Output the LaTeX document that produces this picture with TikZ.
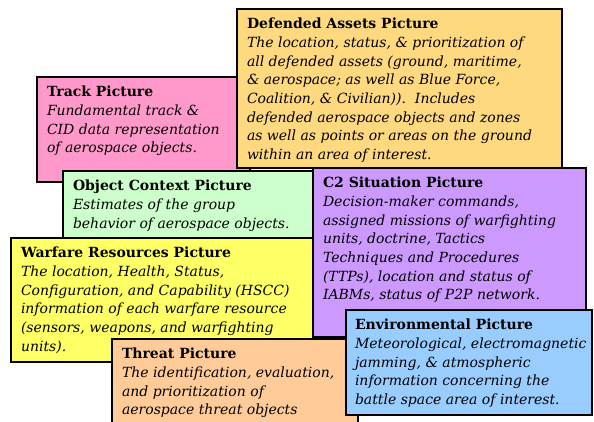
\documentclass[tikz,border=0pt]{standalone}
\usepackage{fontspec}
\setmainfont{DejaVu Serif}
\usepackage{xcolor}
\definecolor{trackpink}{HTML}{FF99CC}
\definecolor{assetgold}{HTML}{FFD980}
\definecolor{contextgreen}{HTML}{CCFFCC}
\definecolor{warfareyellow}{HTML}{FFFF66}
\definecolor{ctwopurple}{HTML}{CC99FF}
\definecolor{threatpeach}{HTML}{FFCC99}
\definecolor{envblue}{HTML}{99CCFF}
\tikzset{%
    panel/.style={inner sep=0pt,outer sep=0pt,shape=rectangle,draw,line width=1.1pt,anchor=north west},
    panel text/.style={inner sep=0pt,outer sep=0pt,anchor=north west,align=left,font=\fontsize{14}{18.7}\selectfont\itshape},
}

\begin{document}
\begin{tikzpicture}[x=1pt,y=-1pt]
        \useasboundingbox (0,0) rectangle (594,421);

        % track
        \node[panel,fill=trackpink,minimum width=213pt,minimum height=105pt] (track) at (37,77) {};
        \node[panel text] (track-txt) at ([shift={(10,9)}]track.north west)
          {\textup{\textbf{Track Picture}}\\Fundamental track \&\\CID data representation\\of aerospace objects.};

        % defended assets
        \node[panel,fill=assetgold,minimum width=325pt,minimum height=159pt] (assets) at (237,9) {};
        \node[panel text] (assets-txt) at ([shift={(10,9)}]assets.north west)
          {\textup{\textbf{Defended Assets Picture}}\\The location, status, \& prioritization of\\all defended assets (ground, maritime,\\\& aerospace; as well as Blue Force,\\Coalition, \& Civilian)).\ \ Includes\\defended aerospace objects and zones\\as well as points or areas on the ground\\within an area of interest.};

        % object context
        \node[panel,fill=contextgreen,minimum width=260pt,minimum height=80pt] (context) at (63,171) {};
        \node[panel text] (context-txt) at ([shift={(10,9)}]context.north west)
          {\textup{\textbf{Object Context Picture}}\\Estimates of the group\\behavior of aerospace objects.};

        % warfare resources
        \node[panel,fill=warfareyellow,minimum width=315pt,minimum height=124pt] (warfare) at (11,238) {};
        \node[panel text] (warfare-txt) at ([shift={(10,9)}]warfare.north west)
          {\textup{\textbf{Warfare Resources Picture}}\\The location, Health, Status,\\Configuration, and Capability (HSCC)\\information of each warfare resource\\(sensors, weapons, and warfighting\\units).};

        % c2 situation
        \node[panel,fill=ctwopurple,minimum width=273pt,minimum height=169pt] (ctwo) at (313,168) {};
        \node[panel text] (ctwo-txt) at ([shift={(10,9)}]ctwo.north west)
          {\textup{\textbf{C2 Situation Picture}}\\Decision-maker commands,\\assigned missions of warfighting\\units, doctrine, Tactics\\Techniques and Procedures\\(TTPs), location and status of\\IABMs, status of P2P network.};

        % threat
        \node[panel,fill=threatpeach,minimum width=246pt,minimum height=90pt] (threat) at (112,339) {};
        \node[panel text] (threat-txt) at ([shift={(10,9)}]threat.north west)
          {\textup{\textbf{Threat Picture}}\\The identification, evaluation,\\and prioritization of\\aerospace threat objects};

        % environmental
        \node[panel,fill=envblue,minimum width=246pt,minimum height=105pt] (env) at (346,310) {};
        \node[panel text] (env-txt) at ([shift={(9,9)}]env.north west)
          {\textup{\textbf{Environmental Picture}}\\Meteorological, electromagnetic\\jamming, \& atmospheric\\information concerning the\\battle space area of interest.};
      \end{tikzpicture}
\end{document}
